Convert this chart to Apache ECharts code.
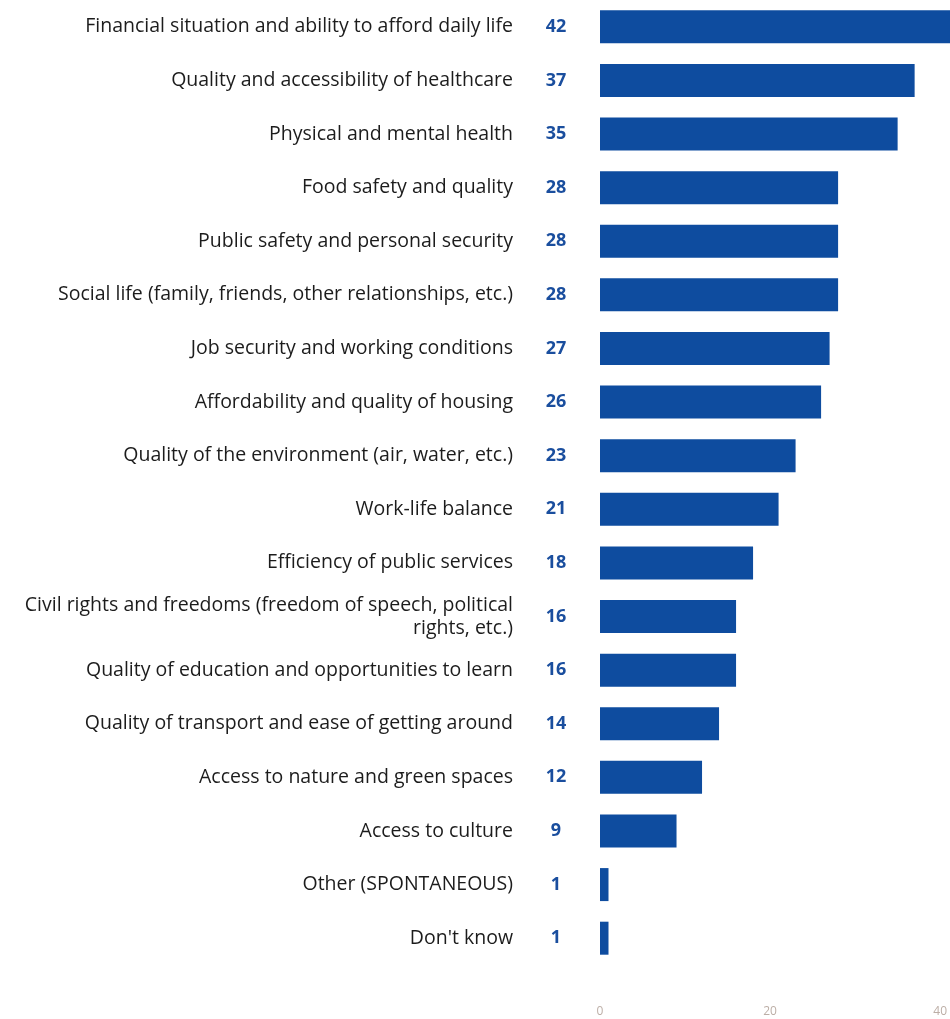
<!DOCTYPE html>
<html>
<head>
<meta charset="utf-8">
<script src="https://cdn.jsdelivr.net/npm/echarts@6/dist/echarts.min.js"></script>
<style>
  html, body { margin: 0; padding: 0; background: #ffffff; }
  #chart { width: 950px; height: 1019px; }
</style>
</head>
<body>
<div id="chart"></div>
<script>
// Survey topics, top to bottom
const categories = [
  "Financial situation and ability to afford daily life",
  "Quality and accessibility of healthcare",
  "Physical and mental health",
  "Food safety and quality",
  "Public safety and personal security",
  "Social life (family, friends, other relationships, etc.)",
  "Job security and working conditions",
  "Affordability and quality of housing",
  "Quality of the environment (air, water, etc.)",
  "Work-life balance",
  "Efficiency of public services",
  "Civil rights and freedoms (freedom of speech, political\nrights, etc.)",
  "Quality of education and opportunities to learn",
  "Quality of transport and ease of getting around",
  "Access to nature and green spaces",
  "Access to culture",
  "Other (SPONTANEOUS)",
  "Don't know"
];

// Share of respondents (%)
const values = [42, 37, 35, 28, 28, 28, 27, 26, 23, 21, 18, 16, 16, 14, 12, 9, 1, 1];

// Value axis ticks
const xTicks = [0, 20, 40];

const FONT = "'Open Sans', sans-serif";
const BLUE = "#0e4c9f";

const chart = echarts.init(document.getElementById("chart"));
chart.setOption({
  animation: false,
  grid: { left: 600, right: 8, top: -1, bottom: 54, containLabel: false },
  xAxis: {
    type: "value",
    min: xTicks[0],
    max: xTicks[xTicks.length - 1],
    interval: xTicks[1] - xTicks[0],
    axisLine: { show: false },
    axisTick: { show: false },
    splitLine: { show: false },
    axisLabel: { color: "#bcaea6", fontSize: 12, fontFamily: FONT, margin: 41 }
  },
  yAxis: [
    {
      type: "category",
      data: categories,
      inverse: true,
      position: "left",
      axisLine: { show: false },
      axisTick: { show: false },
      axisLabel: {
        color: "#1c1c1c",
        fontSize: 19.5,
        fontFamily: FONT,
        margin: 87,
        lineHeight: 23,
        align: "right"
      }
    },
    {
      type: "category",
      data: values.map(String),
      inverse: true,
      position: "left",
      axisLine: { show: false },
      axisTick: { show: false },
      axisLabel: {
        color: "#1a4e9e",
        fontSize: 18,
        fontWeight: "bold",
        fontFamily: FONT,
        margin: 44,
        align: "center"
      }
    }
  ],
  series: [
    {
      type: "bar",
      data: values,
      yAxisIndex: 0,
      barWidth: 33,
      clip: false,
      itemStyle: { color: BLUE },
      silent: true
    }
  ]
});
</script>
</body>
</html>
